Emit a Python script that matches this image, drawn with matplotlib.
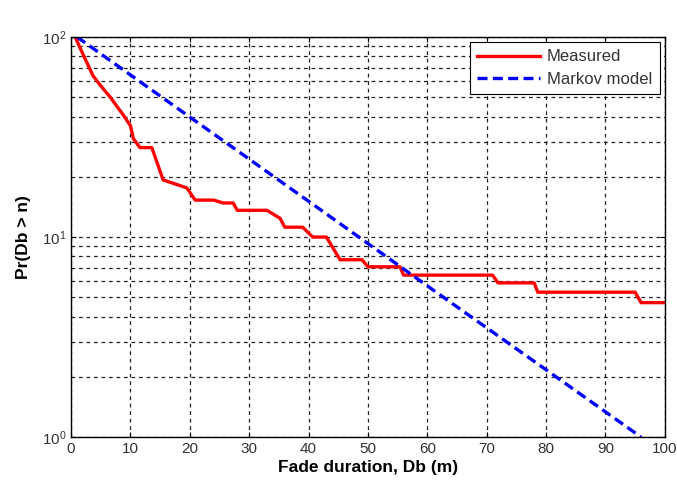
import matplotlib
matplotlib.use("Agg")
import matplotlib.pyplot as plt
from matplotlib.ticker import LogLocator, NullFormatter, FixedLocator

plt.rcParams["font.family"] = ["Liberation Sans", "DejaVu Sans"]

# Measured fade-duration exceedance
meas_x = [0.7, 2.0, 3.7, 5.0, 6.6, 8.8, 10.0, 10.5, 11.6, 13.6, 15.5, 19.5, 20.9, 24.0,
          25.6, 27.3, 28.0, 33.0, 35.2, 36.0, 39.0, 40.7, 43.0, 45.3, 49.0,
          50.0, 55.4, 56.0, 71.0, 71.9, 78.0, 78.6, 95.0, 96.0, 100.0]
meas_y = [100, 82, 64, 57, 50, 40.7, 36, 31, 28, 28, 19.3, 17.6, 15.3, 15.3,
          14.8, 14.8, 13.6, 13.6, 12.4, 11.2, 11.2, 10.0, 10.0, 7.7, 7.7,
          7.1, 7.1, 6.45, 6.45, 5.9, 5.9, 5.3, 5.3, 4.7, 4.7]

# Markov model (straight line on log scale)
markov_x = [1, 20, 40, 60, 80, 96]
markov_y = [100, 39.8, 15.1, 5.7, 2.17, 1.0]

fig = plt.figure(figsize=(6.77, 4.9), dpi=100)
ax = fig.add_axes([0.105, 0.108, 0.877, 0.8165])

ax.plot(meas_x, meas_y, color="#ff0000", linewidth=2.4, label="Measured")
ax.plot(markov_x, markov_y, color="#0000ff", linewidth=2.4,
        linestyle=(0, (3, 1.6)), label="Markov model")

ax.set_yscale("log")
ax.set_xlim(0, 100)
ax.set_ylim(1, 100)
ax.set_xticks(range(0, 101, 10))
ax.yaxis.set_major_locator(FixedLocator([1, 10, 100]))
ax.yaxis.set_minor_locator(LogLocator(base=10, subs=range(2, 10)))
ax.yaxis.set_minor_formatter(NullFormatter())

ax.grid(True, which="major", color="#222222", linestyle=(0, (3, 3)), linewidth=0.9)
ax.grid(True, which="minor", axis="y", color="#222222", linestyle=(0, (3, 3)), linewidth=0.9)
ax.tick_params(which="both", direction="in", top=True, right=True,
               labelsize=11, labelcolor="#333333")
ax.tick_params(which="minor", length=0)
for s in ax.spines.values():
    s.set_linewidth(1.0)

ax.set_xlabel("Fade duration, Db (m)", fontsize=12.5, fontweight="bold", labelpad=3)
ax.set_ylabel("Pr(Db > n)", fontsize=12.5, fontweight="bold", labelpad=8)

leg = ax.legend(loc="upper right", fontsize=12, fancybox=False, framealpha=1,
                edgecolor="black", handlelength=3.8, borderaxespad=0.3,
                borderpad=0.45, labelspacing=0.45, handletextpad=0.4)
leg.get_frame().set_linewidth(0.8)
for t in leg.get_texts():
    t.set_color("#333333")

fig.savefig("out.png", dpi=100)
